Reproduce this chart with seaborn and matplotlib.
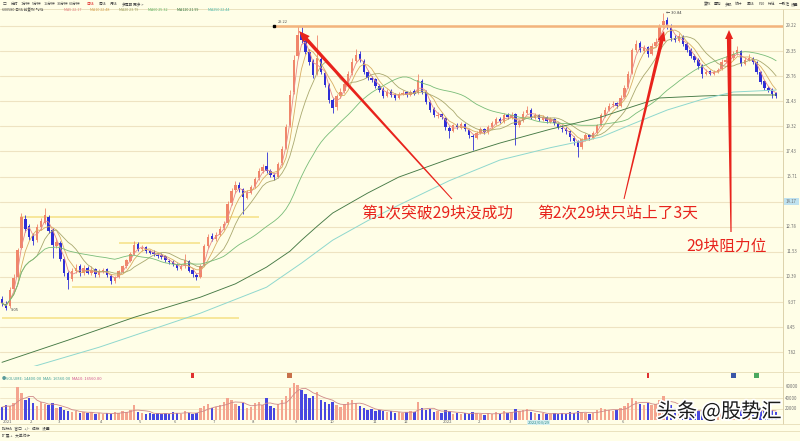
import numpy as np
import pandas as pd
import matplotlib
matplotlib.use("Agg")
import matplotlib.pyplot as plt
import matplotlib.patheffects as pe
from matplotlib.patches import Polygon, Rectangle
from matplotlib.ticker import NullLocator
import seaborn as sns

# ---------------- data ----------------
opens = [
    9.50, 9.30, 9.20, 9.90, 10.40, 11.70, 13.20, 12.80, 12.30, 12.10,
    12.75, 13.00, 13.30, 12.60, 11.80, 11.95, 11.20, 10.55, 10.30, 10.65,
    10.85, 10.55, 10.80, 10.55, 10.75, 10.48, 10.60, 10.72, 10.45, 10.20,
    10.40, 10.62, 10.88, 11.10, 11.42, 11.90, 11.65, 11.75, 11.55, 11.52,
    11.38, 11.36, 11.32, 11.10, 11.05, 10.95, 10.75, 10.85, 11.10, 10.70,
    10.48, 10.40, 10.90, 11.80, 12.30, 12.15, 12.35, 12.70, 13.00, 14.10,
    14.85, 15.20, 14.90, 14.40, 14.70, 15.10, 15.60, 16.10, 16.40, 16.05,
    15.80, 15.70, 16.60, 17.70, 19.40, 22.30, 25.80, 28.30, 27.50, 26.30,
    25.30, 24.00, 25.50, 24.10, 22.90, 21.50, 20.90, 21.90, 22.35, 23.10,
    24.10, 25.30, 26.00, 25.30, 24.20, 23.60, 23.45, 22.80, 22.50, 21.90,
    22.35, 22.00, 21.70, 22.10, 22.25, 22.00, 22.35, 22.15, 23.30, 22.25,
    21.40, 20.75, 20.15, 20.30, 20.00, 19.20, 18.95, 19.45, 19.20, 19.50,
    19.05, 18.60, 18.45, 18.80, 19.10, 18.85, 19.25, 19.55, 19.90, 19.70,
    20.25, 20.00, 20.30, 19.40, 19.75, 20.40, 20.70, 20.00, 20.25, 19.85,
    20.05, 19.70, 19.90, 19.55, 19.20, 19.10, 18.95, 18.45, 18.20, 17.75,
    18.30, 18.65, 18.45, 18.80, 19.45, 20.25, 20.70, 21.10, 21.25, 21.05,
    21.80, 22.70, 24.10, 26.50, 27.20, 26.40, 26.75, 26.00, 26.95, 27.40,
    29.30, 29.90, 29.20, 27.80, 27.50, 28.00, 27.10, 26.50, 25.85, 25.40,
    24.85, 24.00, 24.25, 24.00, 24.20, 24.45, 25.20, 25.40, 25.60, 26.10,
    26.40, 25.00, 25.45, 25.60, 25.20, 24.20, 23.25, 22.60, 22.50, 22.15,
]
closes = [
    9.33, 9.14, 9.84, 10.33, 11.59, 13.31, 12.67, 12.27, 12.07, 12.78,
    13.09, 13.42, 12.57, 11.87, 12.02, 11.21, 10.58, 10.25, 10.67, 10.80,
    10.58, 10.76, 10.58, 10.71, 10.50, 10.63, 10.71, 10.46, 10.21, 10.37,
    10.63, 10.85, 11.12, 11.40, 11.87, 11.68, 11.73, 11.54, 11.49, 11.40,
    11.35, 11.30, 11.12, 11.03, 10.94, 10.76, 10.85, 11.12, 10.67, 10.50,
    10.37, 10.85, 11.78, 12.27, 12.17, 12.37, 12.67, 12.94, 14.04, 14.81,
    15.18, 14.93, 14.45, 14.69, 15.05, 15.55, 16.07, 16.34, 16.07, 15.81,
    15.68, 16.54, 17.58, 19.24, 22.02, 25.42, 28.16, 27.59, 26.26, 25.21,
    23.90, 25.63, 24.20, 22.94, 21.58, 20.88, 21.93, 22.30, 23.04, 24.00,
    25.21, 25.94, 25.42, 24.20, 23.61, 23.42, 22.85, 22.48, 21.93, 22.30,
    22.02, 21.75, 22.11, 22.20, 22.02, 22.30, 22.11, 23.42, 22.30, 21.40,
    20.71, 20.21, 20.29, 20.05, 19.24, 18.93, 19.40, 19.24, 19.48, 19.08,
    18.62, 18.47, 18.78, 19.08, 18.85, 19.24, 19.56, 19.88, 19.72, 20.21,
    20.05, 20.29, 19.40, 19.72, 20.37, 20.71, 20.05, 20.21, 19.88, 20.05,
    19.72, 19.88, 19.56, 19.24, 19.08, 18.93, 18.47, 18.17, 17.72, 18.32,
    18.62, 18.47, 18.78, 19.40, 20.21, 20.71, 21.05, 21.23, 21.05, 21.75,
    22.66, 24.00, 26.48, 27.14, 26.48, 26.70, 26.04, 26.92, 27.36, 29.15,
    29.80, 29.30, 27.81, 27.59, 28.04, 27.14, 26.48, 25.83, 25.42, 24.80,
    24.00, 24.20, 24.00, 24.20, 24.40, 25.21, 25.42, 25.63, 26.04, 26.48,
    25.01, 25.42, 25.63, 25.21, 24.20, 23.23, 22.66, 22.48, 22.11, 21.93,
]
highs = [
    9.62, 9.40, 9.95, 10.50, 11.70, 13.55, 13.40, 12.95, 12.45, 12.90,
    13.25, 13.80, 13.40, 12.70, 12.20, 12.05, 11.30, 10.65, 10.80, 10.95,
    10.95, 10.90, 10.88, 10.85, 10.80, 10.72, 10.80, 10.78, 10.50, 10.45,
    10.70, 10.92, 11.20, 11.50, 12.05, 11.98, 11.85, 11.82, 11.62, 11.60,
    11.48, 11.45, 11.38, 11.18, 11.12, 11.00, 10.95, 11.40, 11.15, 10.75,
    10.55, 10.95, 11.90, 12.40, 12.45, 12.50, 12.80, 13.10, 14.20, 15.00,
    15.40, 15.35, 15.00, 14.85, 15.20, 15.70, 16.25, 16.55, 17.40, 16.20,
    15.95, 16.70, 17.80, 19.50, 22.40, 25.90, 29.25, 29.10, 27.90, 26.60,
    25.50, 28.10, 25.80, 24.30, 23.10, 21.70, 22.10, 22.60, 23.30, 24.30,
    25.60, 26.60, 26.40, 25.50, 24.40, 23.80, 23.60, 23.00, 22.70, 22.50,
    22.50, 22.15, 22.30, 22.40, 22.35, 22.45, 22.50, 23.95, 23.50, 22.40,
    21.55, 20.90, 20.50, 20.45, 20.10, 19.35, 19.55, 19.60, 19.65, 19.60,
    19.15, 18.75, 18.95, 19.25, 19.20, 19.40, 19.75, 20.05, 20.05, 20.40,
    20.45, 20.50, 20.40, 19.90, 20.55, 21.00, 20.85, 20.40, 20.35, 20.25,
    20.15, 20.05, 20.00, 19.65, 19.40, 19.25, 19.05, 18.55, 18.30, 18.45,
    18.80, 18.75, 18.95, 19.55, 20.40, 20.90, 21.30, 21.45, 21.40, 21.95,
    22.90, 24.30, 26.70, 27.60, 27.50, 27.00, 26.90, 27.20, 27.80, 29.40,
    30.84, 30.30, 29.40, 28.20, 28.40, 28.20, 27.30, 26.70, 26.05, 25.60,
    25.00, 24.45, 24.40, 24.40, 24.60, 25.50, 25.80, 25.90, 26.40, 26.90,
    26.50, 25.70, 26.00, 25.75, 25.30, 24.30, 23.40, 22.85, 22.65, 22.30,
]
lows = [
    9.20, 9.05, 9.15, 9.80, 10.35, 11.65, 12.50, 12.10, 11.85, 12.00,
    12.60, 12.90, 12.45, 11.25, 11.70, 11.10, 10.45, 9.90, 10.20, 10.55,
    10.45, 10.48, 10.50, 10.48, 10.40, 10.40, 10.55, 10.38, 10.10, 10.15,
    10.35, 10.55, 10.80, 11.05, 11.38, 11.58, 11.55, 11.45, 11.40, 11.32,
    11.25, 11.20, 11.05, 10.95, 10.85, 10.68, 10.70, 10.80, 10.60, 10.40,
    10.25, 10.35, 10.85, 11.70, 12.05, 12.05, 12.30, 12.60, 12.95, 14.00,
    14.70, 14.75, 13.45, 14.30, 14.60, 15.00, 15.50, 15.95, 15.95, 15.70,
    15.50, 15.60, 16.50, 17.60, 19.30, 22.10, 25.60, 27.20, 26.00, 24.90,
    23.60, 23.90, 24.00, 22.70, 21.30, 20.40, 20.70, 21.70, 22.20, 22.90,
    23.90, 25.10, 25.20, 23.95, 23.40, 23.20, 22.60, 22.30, 21.70, 21.80,
    21.85, 21.55, 21.60, 21.95, 21.85, 21.90, 21.95, 22.05, 22.10, 21.20,
    20.50, 20.05, 20.00, 19.90, 19.05, 18.40, 18.85, 19.10, 19.10, 18.95,
    18.45, 17.55, 18.35, 18.70, 18.70, 18.75, 19.15, 19.45, 19.60, 19.60,
    19.90, 19.90, 17.90, 19.25, 19.65, 20.30, 19.90, 19.90, 19.75, 19.75,
    19.60, 19.60, 19.45, 19.10, 18.90, 18.75, 18.20, 17.90, 17.00, 17.60,
    18.20, 18.30, 18.35, 18.70, 19.35, 20.10, 20.55, 20.95, 20.85, 20.95,
    21.70, 22.60, 24.00, 26.20, 26.20, 26.10, 25.70, 25.90, 26.80, 27.30,
    29.00, 28.90, 27.50, 27.30, 27.30, 26.90, 26.20, 25.60, 25.20, 24.50,
    23.60, 23.85, 23.85, 23.90, 24.05, 24.35, 25.05, 25.25, 25.45, 25.95,
    24.80, 24.90, 25.30, 25.00, 24.00, 23.00, 22.45, 22.30, 21.75, 21.70,
]
volumes = [
    23400, 27000, 25200, 30600, 59400, 48600, 36000, 39600, 30600, 25200,
    32400, 28800, 27000, 30600, 21600, 23400, 18000, 16200, 14400, 16200,
    12600, 14400, 12600, 14400, 10800, 12600, 10800, 12600, 10800, 14400,
    12600, 16200, 14400, 18000, 27000, 14400, 12600, 10800, 12600, 10800,
    12600, 10800, 12600, 10800, 14400, 12600, 10800, 16200, 12600, 10800,
    12600, 21600, 25200, 28800, 21600, 23400, 27000, 32400, 39600, 36000,
    28800, 25200, 30600, 21600, 23400, 30600, 32400, 27000, 39600, 25200,
    21600, 28800, 36000, 43200, 57600, 66600, 63000, 54000, 46800, 39600,
    43200, 50400, 36000, 32400, 28800, 32400, 27000, 23400, 28800, 32400,
    36000, 30600, 25200, 21600, 18000, 19800, 16200, 18000, 16200, 14400,
    16200, 12600, 14400, 12600, 14400, 16200, 14400, 32400, 21600, 18000,
    19800, 14400, 16200, 12600, 18000, 16200, 10800, 12600, 10800, 12600,
    10800, 14400, 12600, 10800, 9000, 12600, 10800, 14400, 10800, 16200,
    12600, 14400, 19800, 16200, 18000, 19800, 14400, 12600, 10800, 12600,
    10800, 10800, 12600, 10800, 12600, 10800, 14400, 12600, 16200, 14400,
    12600, 10800, 12600, 18000, 21600, 19800, 18000, 16200, 18000, 21600,
    25200, 30600, 39600, 34200, 28800, 27000, 30600, 27000, 28800, 36000,
    43200, 32400, 27000, 21600, 18000, 19800, 16200, 18000, 14400, 16200,
    18000, 14400, 12600, 14400, 12600, 16200, 14400, 16200, 18000, 21600,
    19800, 14400, 16200, 14400, 18000, 19800, 16200, 14400, 18000, 14400,
]
# long moving averages read at sample candles
ma120_idx = [0, 17, 34, 51, 60, 68, 74, 77, 81, 85, 94, 102, 115, 128, 141, 154, 162, 169, 180, 188, 199]
ma120_val = [7.31, 8.01, 8.80, 9.56, 10.10, 10.82, 11.55, 12.09, 12.80, 13.52, 14.68, 15.68, 16.90,
             18.04, 19.10, 20.08, 20.95, 21.72, 21.90, 21.99, 21.99]
ma250_idx = [5, 25, 51, 68, 77, 85, 94, 102, 115, 128, 141, 154, 162, 171, 180, 188, 199]
ma250_val = [7.08, 7.78, 8.95, 9.96, 11.00, 12.09, 13.10, 13.97, 15.45, 16.82, 17.70, 18.49, 19.50,
             20.67, 21.60, 22.26, 22.44]

grid_levels = [29.22, 26.35, 23.76, 21.43, 19.32, 17.43, 15.71, 14.17, 12.78, 11.53, 10.39, 9.37, 8.45, 7.62]
resist_level = 29.22
support_levels = [13.30, 11.95, 9.96, 8.77]
vol_ticks = [60000, 40000, 20000]
month_labels = ["2021", "2", "3", "4", "5", "6", "7", "8", "9", "10", "11", "12",
                "2022", "2", "3", "5", "6"]
month_idx = [0, 7, 14, 25, 35, 44, 54, 64, 75, 84, 95, 103, 113, 122, 130, 150, 159]
event_idx = [49, 74, 166, 188, 194]
event_colors = ["#E03030", "#C8704A", "#E03030", "#3A56A8", "#4AA860"]
toolbar_left = ["□", "分时", "1分钟", "5分钟", "15分钟", "30分钟", "60分钟", "日线", "周线", "月线", "多周期", "更多 >"]
toolbar_right = ["复权", "叠加", "多股", "统计", "画线", "F10", "标记", "一致性", "设置"]
annot_texts = ["第1次突破29块没成功", "第2次29块只站上了3天", "29块阻力位"]
watermark = "头条 @股势汇"

# ---------------- style ----------------
sns.set_theme(style="white")
plt.rcParams["font.family"] = ["Noto Sans CJK SC", "DejaVu Sans"]
plt.rcParams["axes.unicode_minus"] = False

BG = "#FFFEE7"
GRID = "#EEE3C2"
UP = "#F0866A"
DOWN = "#2E2ED6"
VUP = "#F4A58F"
VDOWN = "#4747E0"
RED = "#E8231C"

W, H = 800, 441
fig = plt.figure(figsize=(W / 100, H / 100), dpi=100, facecolor=BG)


def box(x0, y0, x1, y1):
    return [x0 / W, 1 - y1 / H, (x1 - x0) / W, (y1 - y0) / H]


ax = fig.add_axes(box(0, 11, 783, 366))
axv = fig.add_axes(box(0, 376, 783, 420))
ov = fig.add_axes([0, 0, 1, 1])

N = len(closes)
idx = np.arange(N)
o = np.array(opens)
c = np.array(closes)
hi = np.array(highs)
lo = np.array(lows)
vol = np.array(volumes)
up = c >= o
ccol = np.where(up, UP, DOWN)
vcol = np.where(up, VUP, VDOWN)
XL = (-0.51, 200.77)

# ---------------- price panel ----------------
ax.set_facecolor(BG)
ax.set_yscale("log")
for v in grid_levels:
    ax.axhline(v, color=GRID, lw=0.8, zorder=0)
for p, a, b in zip(support_levels, [4.6, 30, 18, 0], [66, 51, 51, 61]):
    ax.hlines(p, a, b, color="#F6E38C", lw=1.2, zorder=1)

ax.vlines(idx, lo, hi, colors=ccol, lw=0.6, zorder=3)
ax.bar(idx, np.maximum(np.abs(c - o), c * 0.003), bottom=np.minimum(o, c),
       width=0.62, color=ccol, linewidth=0, zorder=4)

df = pd.DataFrame({"idx": idx, "close": c})
ma_specs = [("MA5", 3, "#E8898A"), ("MA10", 5, "#D8AE62"), ("MA20", 10, "#A9A86E"), ("MA60", 30, "#78BC78")]
for name, win, col in ma_specs:
    df[name] = df["close"].rolling(win, min_periods=1).mean()
    sns.lineplot(data=df, x="idx", y=name, ax=ax, color=col, lw=0.6, zorder=5)
sns.lineplot(x=ma120_idx, y=ma120_val, ax=ax, color="#467A46", lw=0.65, zorder=5)
sns.lineplot(x=ma250_idx, y=ma250_val, ax=ax, color="#8FD8CE", lw=0.7, zorder=5)

resist_from = 70
ax.hlines(resist_level, resist_from, XL[1], color="#F3B47C", lw=1.8, zorder=6)
ax.plot([resist_from], [resist_level], marker="s", color="black", ms=2, zorder=7)
ax.text(resist_from + 0.8, resist_level * 1.012, f"{resist_level:.2f}", fontsize=2.8, color="#555555", zorder=7)

imax = int(np.argmax(hi))
ax.text(imax + 0.8, hi[imax], f"← {hi[imax]:.2f}", fontsize=3.0, color="#444444", va="center", zorder=7)
imin = int(np.argmin(lo))
ax.text(imin + 1.2, lo[imin], f"{lo[imin]:.2f}", fontsize=3.0, color="#444444", va="center", zorder=7)

ax.set_xlim(*XL)
ax.set_ylim(7.20, 31.08)
ax.set_xlabel("")
ax.set_ylabel("")
ax.xaxis.set_major_locator(NullLocator())
ax.yaxis.set_major_locator(NullLocator())
ax.yaxis.set_minor_locator(NullLocator())
for s in ax.spines.values():
    s.set_visible(False)

# ---------------- volume panel ----------------
axv.set_facecolor(BG)
for v in vol_ticks:
    axv.axhline(v, color=GRID, lw=0.6, zorder=0)
axv.bar(idx, vol, width=0.62, color=vcol, linewidth=0, zorder=3)
dv = pd.DataFrame({"idx": idx, "vma": pd.Series(vol).rolling(5, min_periods=1).mean()})
sns.lineplot(data=dv, x="idx", y="vma", ax=axv, color="#CF8A8A", lw=0.6, zorder=4)
axv.set_xlim(*XL)
axv.set_ylim(0, 80000)
axv.set_xlabel("")
axv.set_ylabel("")
axv.xaxis.set_major_locator(NullLocator())
axv.yaxis.set_major_locator(NullLocator())
for s in axv.spines.values():
    s.set_visible(False)

# ---------------- overlay (pixel coordinates) ----------------
ov.set_xlim(0, W)
ov.set_ylim(H, 0)
ov.axis("off")
ov.patch.set_alpha(0)
ov.set_zorder(10)


def to_px(x, y, src):
    d = src.transData.transform((x, y))
    return ov.transData.inverted().transform(d)


# frame lines
ov.plot([783, 783], [9, 424], color="#DCD2AC", lw=0.7)
for yy in [9, 372, 424, 431]:
    ov.plot([0, 800], [yy, yy], color="#E6DDB8", lw=0.6)

# right axis labels
for k, v in enumerate(grid_levels):
    y = to_px(0, v, ax)[1]
    if k == 7:
        ov.add_patch(Rectangle((784, y - 3.2), 15, 6.4, fc="#BFE2F0", ec="none"))
    ov.text(791.5, y, f"{v:.2f}", fontsize=3.1, color="#707070", ha="center", va="center")
for v in vol_ticks:
    y = to_px(0, v, axv)[1]
    ov.text(791.5, y, f"{v}", fontsize=3.1, color="#707070", ha="center", va="center")

# month labels
for k, lab in zip(month_idx, month_labels):
    x = to_px(k, 0, axv)[0]
    ov.text(x + 1, 422.3, lab, fontsize=3.0, color="#666666", ha="left", va="center")
xd = to_px(138, 0, axv)[0]
ov.text(xd, 422.3, "2022/03/29", fontsize=3.0, color="#2A8C8C", ha="center", va="center",
        bbox=dict(boxstyle="square,pad=0.1", fc="#D7EFEF", ec="none"))

# event markers
for k, col in zip(event_idx, event_colors):
    x = to_px(k, 0, axv)[0]
    wdt = 2.2 if col == "#E03030" else 5
    ov.add_patch(Rectangle((x - wdt / 2, 372.5), wdt, 5, fc=col, ec="none"))

# volume legend
ov.text(2, 379.5, "●", fontsize=3.0, color="#5A9A9A", va="center")
ov.text(6, 379.5, f"VOLUME: {vol[-1]:.2f}  MA5: {dv['vma'].iloc[-1]:.2f}", fontsize=2.9, color="#3E9E98", va="center")
ov.text(72, 379.5, f"MA10: {pd.Series(vol).rolling(10).mean().iloc[-1]:.2f}", fontsize=2.9, color="#D0508A", va="center")

# toolbar rows
tl_x = [3, 11, 21, 32, 44, 57, 69, 86, 99, 110, 122, 133]
for x, lab in zip(tl_x, toolbar_left):
    ov.text(x, 4.2, lab, fontsize=2.7, color="#E02020" if lab == "日线" else "#444444", va="center")
tr_x = [704, 714, 725, 735, 747, 759, 768, 779, 791]
for x, lab in zip(tr_x, toolbar_right):
    ov.text(x, 4.2, lab, fontsize=2.7, color="#444444", va="center")

ov.text(2, 9.8, "600580 日线 前复权 均线", fontsize=2.7, color="#444444", va="center")
xx = 64
legend_cols = ["#E27B7B", "#D4A04C", "#9E9E5C", "#5FB05F", "#2F6F35", "#4CB8AA"]
legend_vals = [df["MA5"].iloc[-1], df["MA10"].iloc[-1], df["MA20"].iloc[-1], df["MA60"].iloc[-1],
               ma120_val[-1], ma250_val[-1]]
for lab, val, col in zip(["MA5", "MA10", "MA20", "MA60", "MA120", "MA250"], legend_vals, legend_cols):
    t = f"{lab} {val:.2f}"
    ov.text(xx, 9.8, t, fontsize=2.7, color=col, va="center")
    xx += 4.0 * len(t) * 0.62 + 4

ov.text(2, 428, "指标A   窗口   +/-   模板   设置", fontsize=2.7, color="#444444", va="center")
ov.text(2, 435.5, "扩展 +   大单统计", fontsize=2.7, color="#444444", va="center")


# annotation arrows (tapered)
def wedge_arrow(tail, tip, w0, w1, hl, hw):
    tail = np.array(tail, float)
    tip = np.array(tip, float)
    d = tip - tail
    u = d / np.hypot(*d)
    n = np.array([-u[1], u[0]])
    base = tip - u * hl
    pts = [tail + n * w0 / 2, base + n * w1 / 2, base + n * hw / 2, tip,
           base - n * hw / 2, base - n * w1 / 2, tail - n * w0 / 2]
    ov.add_patch(Polygon(pts, closed=True, fc=RED, ec="none", zorder=20))


wedge_arrow((452, 199), (299, 31), 1.0, 3.6, 11, 9)
wedge_arrow((624, 199), (664, 31), 1.0, 3.6, 10, 8)
wedge_arrow((731, 232), (729, 30), 1.2, 4.4, 9, 8)

ov.text(437, 214, annot_texts[0], color=RED, fontsize=11.3, ha="center", va="center", zorder=21)
ov.text(618, 213, annot_texts[1], color=RED, fontsize=11.3, ha="center", va="center", zorder=21)
ov.text(727, 246, annot_texts[2], color=RED, fontsize=11.3, ha="center", va="center", zorder=21)

ov.text(719, 412, watermark, color="#1B1B1B", fontsize=14.6, ha="center", va="center", zorder=22,
        path_effects=[pe.withStroke(linewidth=2.5, foreground="white")])

fig.savefig("out.png", dpi=100, facecolor=BG)
